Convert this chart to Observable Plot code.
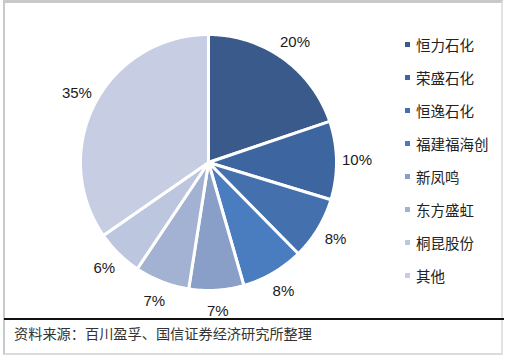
<!DOCTYPE html>
<html>
<head>
<meta charset="utf-8">
<script src="https://cdn.jsdelivr.net/npm/d3@7"></script>
<script src="https://cdn.jsdelivr.net/npm/@observablehq/plot@0.6"></script>
<style>
  html, body { margin: 0; padding: 0; background: #fff; }
  #wrap { position: relative; width: 505px; height: 358px; overflow: hidden; background: #fff; }
  #frame { position: absolute; left: 3px; top: 0; width: 500px; height: 355px; box-sizing: border-box;
           border-top: 3px solid #c9c9c9; border-left: 2px solid #c9c9c9; border-right: 2px solid #e2e2e2; border-bottom: 2px solid #dcdcdc; }
  #chart { position: absolute; left: 0; top: 0; }
  #legend { position: absolute; left: 404px; top: 36px; font-family: "Noto Sans CJK SC", sans-serif; font-size: 14.5px; color: #222; }
  .item { position: absolute; left: 0; white-space: nowrap; height: 18px; line-height: 18px; }
  .sw { position: absolute; left: 1px; top: 6px; width: 5px; height: 5px; }
  .lab { position: absolute; left: 12px; top: 0; }
  #rule { position: absolute; left: 4px; top: 318px; width: 500px; height: 2px; background: #111; }
  #caption { position: absolute; left: 14px; top: 323px; font-family: "Noto Sans CJK SC", sans-serif; font-size: 14.2px; color: #333; }
</style>
</head>
<body>
<div id="wrap">
  <div id="frame"></div>
  <div id="chart"></div>
  <div id="legend"></div>
  <div id="rule"></div>
  <div id="caption">资料来源：百川盈孚、国信证券经济研究所整理</div>
</div>
<script>
const categories = ["恒力石化", "荣盛石化", "恒逸石化", "福建福海创", "新凤鸣", "东方盛虹", "桐昆股份", "其他"];
const shares = [20, 10, 8, 8, 7, 7, 6, 35];
const colors = ["#395a8b", "#3d66a0", "#4471ad", "#4a7cc0", "#8a9fc8", "#a3b2d3", "#bcc6de", "#c7cee3"];

const pie = d3.pie().sort(null).value(d => d.value)(categories.map((c, i) => ({key: c, value: shares[i]})));

// polygon vertices of each slice, angle clockwise from top
const pts = [];
pie.forEach(s => {
  pts.push({key: s.data.key, x: 0, y: 0});
  const n = Math.max(2, Math.ceil((s.endAngle - s.startAngle) / 0.01));
  for (let k = 0; k <= n; k++) {
    const a = s.startAngle + (s.endAngle - s.startAngle) * k / n;
    pts.push({key: s.data.key, x: Math.sin(a), y: Math.cos(a)});
  }
  pts.push({key: s.data.key, x: 0, y: 0});
});

const labelR = 1.16;
const labels = pie.map(s => {
  const a = (s.startAngle + s.endAngle) / 2;
  return {text: s.data.value + "%", x: labelR * Math.sin(a), y: labelR * Math.cos(a)};
});

const plot = Plot.plot({
  width: 505,
  height: 320,
  marginLeft: 80,
  marginRight: 169,
  marginTop: 34,
  marginBottom: 30,
  x: {domain: [-1, 1], axis: null},
  y: {domain: [-1, 1], axis: null},
  color: {domain: categories, range: colors},
  style: {background: "transparent"},
  marks: [
    Plot.line(pts, {x: "x", y: "y", z: "key", fill: "key", stroke: "#fff", strokeWidth: 3, strokeLinejoin: "round", curve: "linear"}),
    Plot.text(labels, {x: "x", y: "y", text: "text", fontSize: 15, fill: "#1a1a1a", fontFamily: "Liberation Sans, Arial, sans-serif"})
  ]
});
document.getElementById("chart").appendChild(plot);

const legend = document.getElementById("legend");
categories.forEach((c, i) => {
  const it = document.createElement("div");
  it.className = "item";
  it.style.top = (i * 33) + "px";
  const sw = document.createElement("div");
  sw.className = "sw";
  sw.style.background = colors[i];
  const lb = document.createElement("div");
  lb.className = "lab";
  lb.textContent = c;
  it.appendChild(sw); it.appendChild(lb);
  legend.appendChild(it);
});
</script>
</body>
</html>
